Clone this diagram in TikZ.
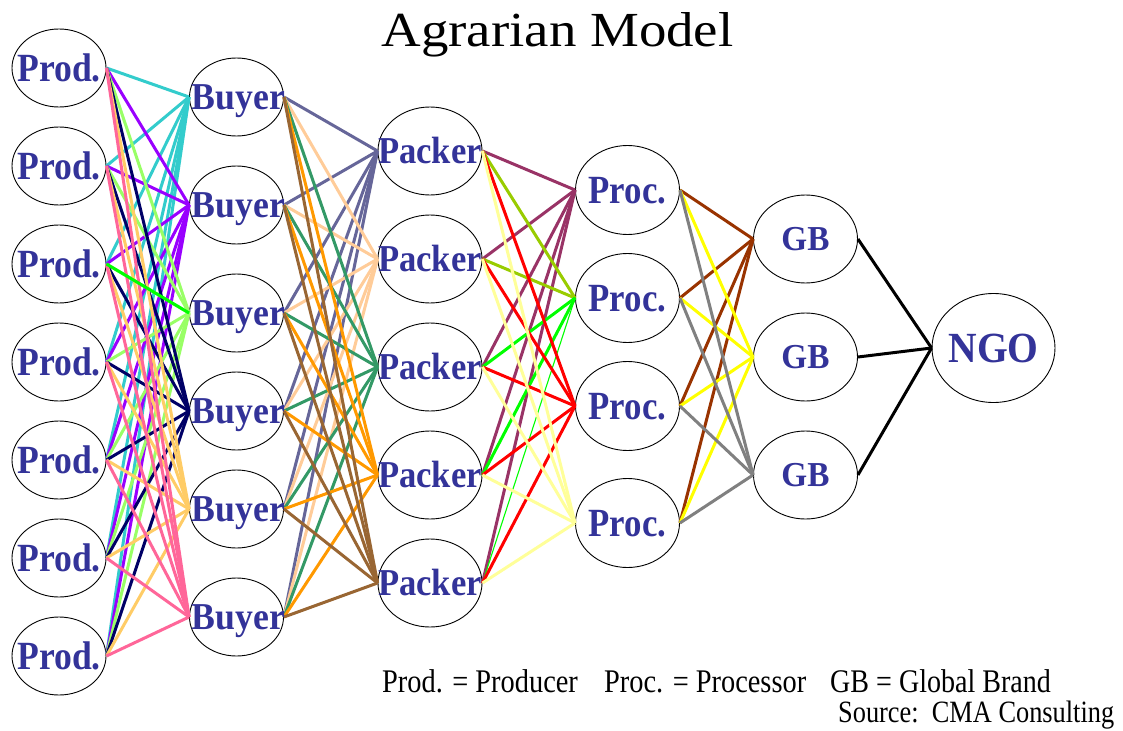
\documentclass[tikz,border=0pt]{standalone}
\usepackage{fontspec}
\setmainfont{Liberation Serif}
\usepackage{graphicx}
\usetikzlibrary{shapes.geometric}
\definecolor{lbl}{HTML}{333399}
\definecolor{cBa}{HTML}{33CCCC}
\definecolor{cBb}{HTML}{9900FF}
\definecolor{cBc}{HTML}{99FF66}
\definecolor{cBd}{HTML}{000066}
\definecolor{cBe}{HTML}{FFCC66}
\definecolor{cBf}{HTML}{FF6699}
\definecolor{cPa}{HTML}{666699}
\definecolor{cPb}{HTML}{FFCC99}
\definecolor{cPc}{HTML}{339966}
\definecolor{cPd}{HTML}{FF9900}
\definecolor{cPe}{HTML}{996633}
\definecolor{cRa}{HTML}{993366}
\definecolor{cRb}{HTML}{99CC00}
\definecolor{cRc}{HTML}{FF0000}
\definecolor{cRd}{HTML}{FFFF99}
\definecolor{brightgreen}{HTML}{00FF00}
\definecolor{cGa}{HTML}{993300}
\definecolor{cGb}{HTML}{FFFF00}
\definecolor{cGc}{HTML}{808080}
\newcommand{\hs}[2]{\scalebox{#1}[1]{#2}}
\tikzset{
  ell/.style={ellipse, draw=black, line width=0.9pt, fill=white, inner sep=0pt},
  prodE/.style={ell, minimum width=94pt, minimum height=78pt},
  buyE/.style={ell, minimum width=94pt, minimum height=78pt},
  packE/.style={ell, minimum width=104pt, minimum height=88pt},
  procE/.style={ell, minimum width=104pt, minimum height=89pt},
  gbE/.style={ell, minimum width=104pt, minimum height=88pt},
  ngoE/.style={ell, minimum width=123pt, minimum height=109pt},
  lab/.style n args={2}{text=lbl, inner sep=0pt, text depth=0pt,
    font=\fontsize{#1}{#1}\selectfont\bfseries, text height=#2},
  conn/.style={line width=3pt},
  legend/.style={anchor=base west, inner sep=0pt, font=\fontsize{33}{33}\selectfont},
}
\begin{document}
\begin{tikzpicture}[x=1pt,y=-1pt]
\useasboundingbox[fill=white] (0,0) rectangle (1123,730);

% ellipses
\foreach \i/\y in {1/68,2/166,3/264,4/362,5/460,6/558,7/656}
  \node[prodE] (p\i) at (59,\y) {};
\foreach \i/\y in {1/97,2/205,3/313,4/411,5/509,6/617}
  \node[buyE] (b\i) at (236.5,\y) {};
\foreach \i/\y in {1/151,2/259,3/367,4/475,5/583}
  \node[packE] (k\i) at (430,\y) {};
\foreach \i/\y in {1/190,2/298,3/406,4/523}
  \node[procE] (r\i) at (627.5,\y) {};
\foreach \i/\y in {1/239,2/357,3/475}
  \node[gbE] (g\i) at (805.5,\y) {};
\node[ngoE] (ngo) at (993.5,348) {};

% producers -> buyers
\foreach \j/\c in {1/cBa,2/cBb,3/cBc,4/cBd,5/cBe,6/cBf}
  \foreach \i in {1,...,7}
    \draw[conn,\c] (p\i.east) -- (b\j.west);
\draw[conn,brightgreen] (p3.east) -- (b3.west);

% buyers -> packers
\foreach \j/\c in {1/cPa,2/cPb,3/cPc,4/cPd,5/cPe}
  \foreach \i in {1,...,6}
    \draw[conn,\c] (b\i.east) -- (k\j.west);

% packers -> processors
\foreach \i in {1,...,5}
  \draw[conn,cRa] (k\i.east) -- (r1.west);
\draw[conn,cRb] (k1.east) -- (r2.west);
\draw[conn,cRb] (k2.east) -- (r2.west);
\draw[conn,brightgreen] (k3.east) -- (r2.west);
\draw[conn,brightgreen] (k4.east) -- (r2.west);
\draw[line width=1.1pt,brightgreen] (k5.east) -- (r2.west);
\foreach \j/\c in {3/cRc,4/cRd}
  \foreach \i in {1,...,5}
    \draw[conn,\c] (k\i.east) -- (r\j.west);

% processors -> global brands
\foreach \j/\c in {1/cGa,2/cGb,3/cGc}
  \foreach \i in {1,...,4}
    \draw[conn,\c] (r\i.east) -- (g\j.west);

% global brands -> NGO
\foreach \i in {1,2,3}
  \draw[conn,black] (g\i.east) -- (ngo.west);

% labels
\foreach \i in {1,...,7}
  \node[lab={40}{26.4pt}] (pt\i) at (p\i) {\hs{0.89}{Prod.}};
\foreach \i in {1,...,6}
  \node[lab={38}{25.1pt}] (bt\i) at ([xshift=2pt]b\i.center) {\hs{0.94}{Buyer}};
\foreach \i in {1,...,5}
  \node[lab={38}{25.1pt}] (kt\i) at (k\i) {\hs{0.91}{Packer}};
\foreach \i in {1,...,4}
  \node[lab={40}{26.4pt}] (rt\i) at (r\i) {\hs{0.87}{Proc.}};
\foreach \i in {1,2,3}
  \node[lab={35}{23.1pt}] (gt\i) at (g\i) {\hs{0.95}{GB}};
\node[lab={43}{28.4pt}] (ngot) at (ngo) {\hs{0.92}{NGO}};

% title and legend
\node[anchor=base, inner sep=0pt, font=\fontsize{49}{49}\selectfont] (title) at (557.5,47) {\hs{1.12}{Agrarian Model}};
\node[legend] (leg1) at (382,692) {\hs{0.86}{Prod. = Producer}};
\node[legend] (leg2) at (604,692) {\hs{0.86}{Proc. = Processor}};
\node[legend] (leg3) at (830,692) {\hs{0.85}{GB = Global Brand}};
\node[anchor=base west, inner sep=0pt, font=\fontsize{31}{31}\selectfont] (src) at (838,722) {\hs{0.85}{Source:\ \ CMA Consulting}};
\end{tikzpicture}
\end{document}
